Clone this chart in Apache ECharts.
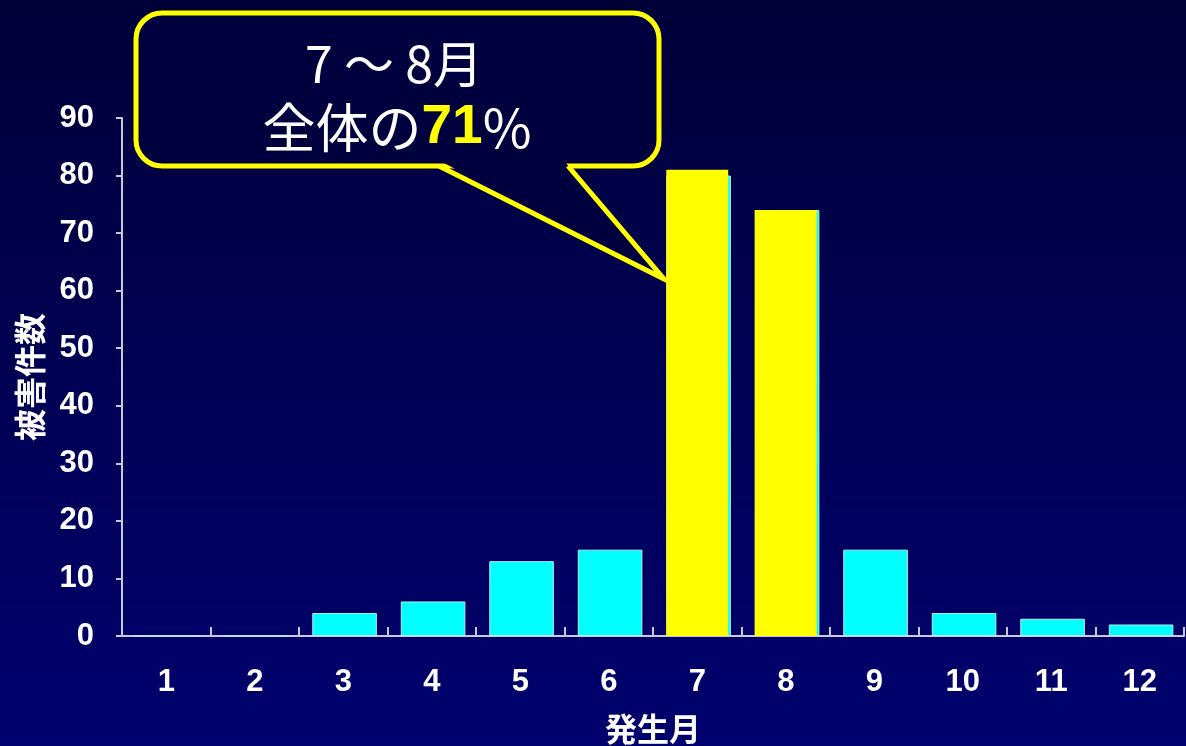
<!DOCTYPE html>
<html>
<head>
<meta charset="utf-8">
<script src="https://cdn.jsdelivr.net/npm/echarts@6/dist/echarts.min.js"></script>
<style>
  html, body { margin: 0; padding: 0; background: #000050; }
  #chart { width: 1186px; height: 746px; }
</style>
</head>
<body>
<div id="chart"></div>
<script>
// Monthly damage counts
const months = ['1', '2', '3', '4', '5', '6', '7', '8', '9', '10', '11', '12'];
const counts = [0, 0, 4, 6, 13, 15, 80, 74, 15, 4, 3, 2];
// Highlighted peak months (July–August)
const peak = [null, null, null, null, null, null, 81, 74, null, null, null, null];
const yTicks = { min: 0, max: 90, interval: 10 };

const navy = '#00003f';
const axisGrey = '#c8c8d8';
const chart = echarts.init(document.getElementById('chart'));

chart.setOption({
  backgroundColor: {
    type: 'linear', x: 0, y: 0, x2: 0, y2: 1,
    colorStops: [
      { offset: 0, color: '#000038' },
      { offset: 1, color: '#00006e' }
    ]
  },
  animation: false,
  grid: { left: 122, top: 118, right: 2, bottom: 110, outerBoundsMode: 'none', containLabel: false },
  xAxis: {
    type: 'category',
    data: months,
    name: '発生月',
    nameLocation: 'middle',
    nameGap: 77,
    nameTextStyle: { color: '#ffffff', fontSize: 32, fontWeight: 'bold', fontFamily: 'Noto Sans CJK JP' },
    axisLine: { lineStyle: { color: axisGrey, width: 2 } },
    axisTick: { show: true, inside: true, length: 9, lineStyle: { color: axisGrey, width: 2 } },
    axisLabel: { color: '#ffffff', fontSize: 31, fontWeight: 'bold', fontFamily: 'Liberation Sans', margin: 31 }
  },
  yAxis: {
    type: 'value',
    min: yTicks.min, max: yTicks.max, interval: yTicks.interval,
    name: '被害件数',
    nameLocation: 'middle',
    nameGap: 76,
    nameRotate: 90,
    nameTextStyle: { color: '#ffffff', fontSize: 32, fontWeight: 'bold', fontFamily: 'Noto Sans CJK JP' },
    splitLine: { show: false },
    axisLine: { show: true, lineStyle: { color: axisGrey, width: 2 } },
    axisTick: { show: true, length: 6, lineStyle: { color: axisGrey, width: 2 } },
    axisLabel: { color: '#ffffff', fontSize: 31, fontWeight: 'bold', fontFamily: 'Liberation Sans', margin: 28 }
  },
  series: [
    {
      type: 'bar',
      data: counts,
      barWidth: '73%',
      barGap: '-100%',
      itemStyle: { color: '#00ffff', borderColor: '#b8ecec', borderWidth: 1 }
    },
    {
      type: 'bar',
      data: peak,
      barWidth: '70%',
      barGap: '-100%',
      itemStyle: { color: '#ffff00' }
    }
  ],
  graphic: [
    {
      type: 'rect',
      shape: { x: 136, y: 13, width: 523, height: 153, r: 26 },
      style: { fill: navy, stroke: '#ffff00', lineWidth: 5 },
      z: 10
    },
    {
      type: 'polygon',
      shape: { points: [[442, 162], [662, 276], [565, 162]] },
      style: { fill: navy, stroke: null },
      z: 11
    },
    {
      type: 'polyline',
      shape: { points: [[439, 166], [664, 279], [568, 166]] },
      style: { stroke: '#ffff00', lineWidth: 5, fill: null, lineJoin: 'miter' },
      z: 12
    },
    {
      type: 'text',
      x: 394, y: 64,
      style: {
        text: '7 ～ 8月',
        fill: '#ffffff',
        font: '50px "Noto Sans CJK JP"',
        align: 'center', verticalAlign: 'middle'
      },
      z: 13
    },
    {
      type: 'text',
      x: 397, y: 128,
      style: {
        text: '{w|全体の}{y|71}{w|%}',
        align: 'center', verticalAlign: 'middle',
        rich: {
          w: { fill: '#ffffff', fontSize: 53, fontFamily: 'Noto Sans CJK JP' },
          y: { fill: '#ffff00', fontSize: 55, fontWeight: 'bold', fontFamily: 'Liberation Sans' }
        }
      },
      z: 13
    }
  ]
});
</script>
</body>
</html>
